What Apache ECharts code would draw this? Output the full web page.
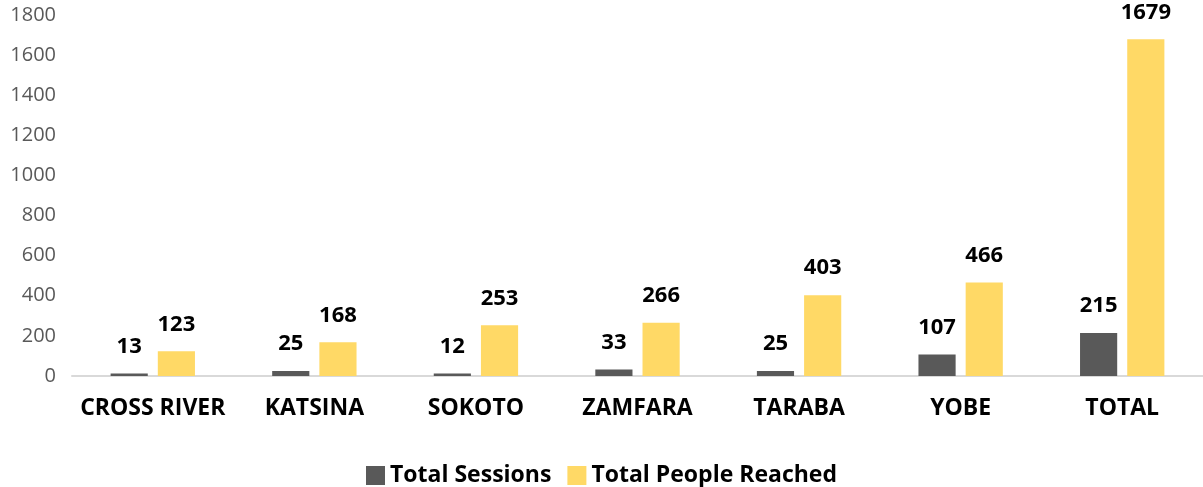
<!DOCTYPE html>
<html>
<head>
<meta charset="utf-8">
<script src="https://cdn.jsdelivr.net/npm/echarts@6/dist/echarts.min.js"></script>
<style>
	html, body { margin: 0; padding: 0; background: #fff; }
	#chart { width: 1203px; height: 487px; }
</style>
</head>
<body>
<div id="chart"></div>
<script>
// 数据
const states = ["CROSS RIVER", "KATSINA", "SOKOTO", "ZAMFARA", "TARABA", "YOBE", "TOTAL"];
const sessions = [13, 25, 12, 33, 25, 107, 215];
const peopleReached = [123, 168, 253, 266, 403, 466, 1679];
const seriesNames = ["Total Sessions", "Total People Reached"];

(function () {
	let myChart = echarts.init(document.getElementById('chart'));
	const font = '"Open Sans", "Noto Sans", sans-serif';
	const labelStyle = {
		show: true,
		position: 'top',
		distance: 16,
		color: '#000',
		fontWeight: 'bold',
		fontSize: 22,
		fontFamily: font
	};
	const option = {
		animation: false,
		color: ['#595959', '#FFD966'],
		grid: {
			left: 72,
			right: 0,
			top: 15,
			bottom: 111,
			containLabel: false
		},
		legend: {
			top: 459,
			left: 'center',
			itemWidth: 19,
			itemHeight: 19,
			itemGap: 16,
			icon: 'rect',
			textStyle: {
				fontSize: 23,
				fontWeight: 'bold',
				color: '#000',
				fontFamily: font
			},
			data: seriesNames
		},
		xAxis: {
			type: 'category',
			data: states,
			axisTick: { show: false },
			axisLine: {
				lineStyle: { color: '#d9d9d9', width: 2 }
			},
			axisLabel: {
				interval: 0,
				color: '#000',
				fontWeight: 'bold',
				fontSize: 23,
				fontFamily: font,
				margin: 21
			}
		},
		yAxis: {
			type: 'value',
			min: 0,
			max: 1800,
			interval: 200,
			axisLine: { show: false },
			axisTick: { show: false },
			splitLine: { show: false },
			axisLabel: {
				color: '#595959',
				fontSize: 20,
				fontFamily: font,
				margin: 16,
				formatter: function (v) { return String(v); }
			}
		},
		series: [
			{
				name: seriesNames[0],
				type: 'bar',
				barWidth: '23%',
				barGap: '27%',
				data: sessions,
				label: labelStyle
			},
			{
				name: seriesNames[1],
				type: 'bar',
				barWidth: '23%',
				data: peopleReached,
				label: labelStyle
			}
		]
	};
	myChart.setOption(option);
})();
</script>
</body>
</html>
